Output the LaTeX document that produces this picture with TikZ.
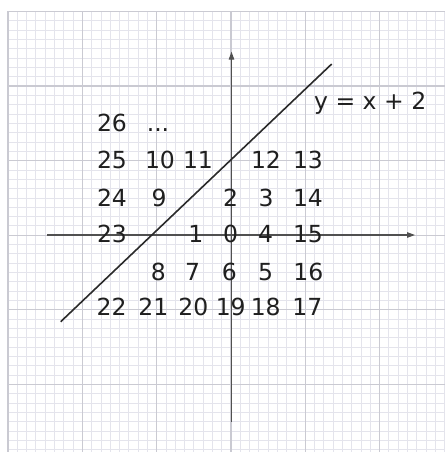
\documentclass[tikz,border=0pt]{standalone}
\usepackage{fontspec}
\setmainfont{DejaVu Sans}
\usetikzlibrary{arrows.meta}
\definecolor{minorc}{HTML}{E4E4EC}
\definecolor{majorc}{HTML}{CACAD2}
\definecolor{axisc}{HTML}{505050}
\definecolor{linec}{HTML}{2A2A2A}
\tikzset{
  num/.style={anchor=base, inner sep=0pt, font=\fontsize{23.5}{23.5}\selectfont, text=black!88},
  minorline/.style={draw=minorc, line width=0.8pt},
  majorline/.style={draw=majorc, line width=1.3pt},
  axisline/.style={draw=axisc, line width=1.1pt, -{Triangle[length=8pt,width=5.5pt]}},
  graphline/.style={draw=linec, line width=1.6pt}
}
\begin{document}
\begin{tikzpicture}[x=1pt,y=-1pt]
\useasboundingbox (0,0) rectangle (445,452);
\fill[white] (0,0) rectangle (445,452);
% minor grid
\foreach \i in {0,...,47}{
  \draw[minorline] ({8+9.29*\i},11.5) -- ({8+9.29*\i},452);
  \draw[minorline] (8,{11.5+9.32*\i}) -- (445,{11.5+9.32*\i});
}
% major grid
\foreach \i in {0,...,5}{
  \draw[majorline] ({8+74.32*\i},11.5) -- ({8+74.32*\i},452);
  \draw[majorline] (8,{11.5+74.55*\i}) -- (445,{11.5+74.55*\i});
}
% axes
\coordinate (xs) at (47,235);
\coordinate (xe) at (415,235);
\coordinate (ys) at (231.5,421.7);
\coordinate (ye) at (231.5,51.7);
\draw[axisline] (xs) -- (xe);
\draw[axisline] (ys) -- (ye);
% line y = x + 2
\coordinate (la) at (60.7,321.7);
\coordinate (lb) at (331.7,64);
\draw[graphline] (la) -- (lb);
\node[num, anchor=base west] (lbl) at (314,109) {y = x + 2};
% numbers
\node[num] (n26) at (112,131.7) {26};
\node[num] (dots) at (158,131.7) {...};
\node[num] (n25) at (112,168.3) {25};
\node[num] (n10) at (160,168.3) {10};
\node[num] (n11) at (198,168.3) {11};
\node[num] (n12) at (266,168.3) {12};
\node[num] (n13) at (308,168.3) {13};
\node[num] (n24) at (112,206.7) {24};
\node[num] (n9) at (159,206.7) {9};
\node[num] (n2) at (230.5,206.7) {2};
\node[num] (n3) at (266,206.7) {3};
\node[num] (n14) at (308,206.7) {14};
\node[num] (n23) at (112,242.7) {23};
\node[num] (n1) at (195.8,242.7) {1};
\node[num] (n0) at (230.7,242.7) {0};
\node[num] (n4) at (265.7,242.7) {4};
\node[num] (n15) at (308,242.7) {15};
\node[num] (n8) at (158.3,280) {8};
\node[num] (n7) at (192.7,280) {7};
\node[num] (n6) at (229.3,280) {6};
\node[num] (n5) at (265.7,280) {5};
\node[num] (n16) at (308.3,280) {16};
\node[num] (n22) at (111.7,315) {22};
\node[num] (n21) at (153.3,315) {21};
\node[num] (n20) at (193.3,315) {20};
\node[num] (n19) at (230.7,315) {19};
\node[num] (n18) at (265.7,315) {18};
\node[num] (n17) at (307.3,315) {17};
\end{tikzpicture}
\end{document}
